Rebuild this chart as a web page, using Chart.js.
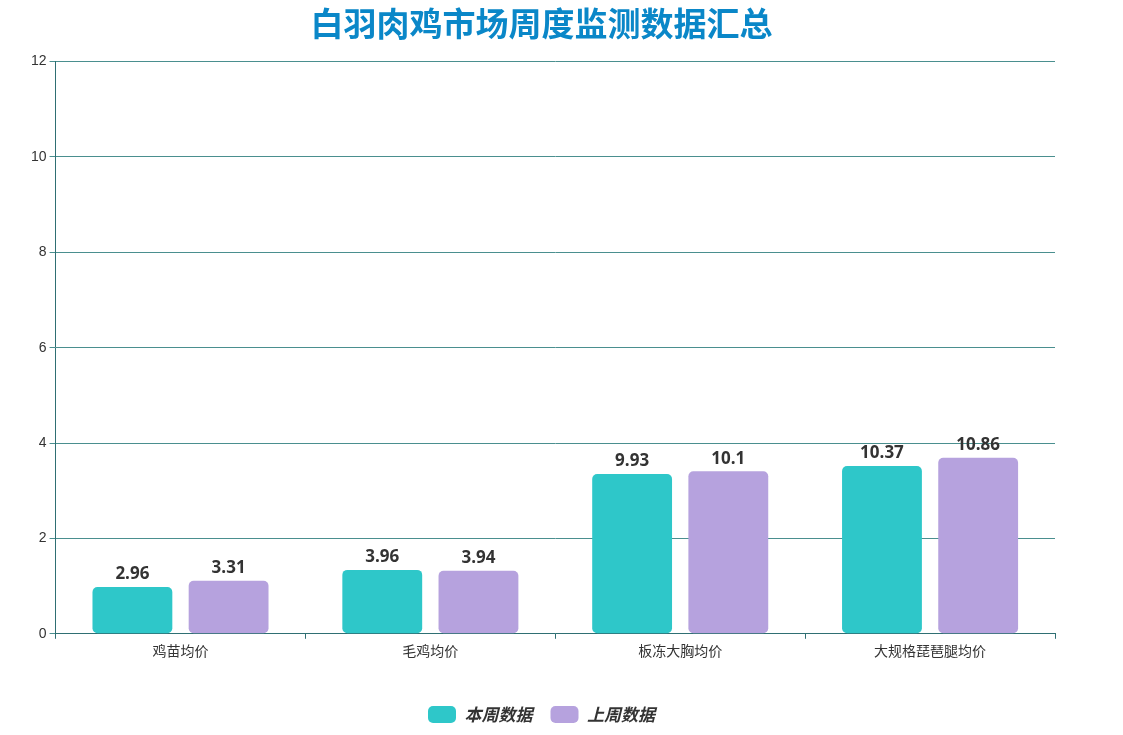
<!DOCTYPE html>
<html><head><meta charset="utf-8">
<script src="https://cdn.jsdelivr.net/npm/chart.js@4"></script>
<style>html,body{margin:0;background:#fff}#w{width:1123px;height:735px}</style>
</head><body><div id="w"><canvas id="c"></canvas></div>
<script>
const categories=['鸡苗均价','毛鸡均价','板冻大胸均价','大规格琵琶腿均价'];
const seriesNames=['本周数据','上周数据'];
const thisWeekLabels=[2.96,3.96,9.93,10.37];
const lastWeekLabels=[3.31,3.94,10.1,10.86];
// bar heights as drawn in the reference (axis units)
const thisWeekHeights=[0.98,1.34,3.35,3.52];
const lastWeekHeights=[1.11,1.32,3.41,3.69];
const yTicks=[0,2,4,6,8,10,12];
const labelsBy=[thisWeekLabels,lastWeekLabels];
const valPlugin={id:'vals',afterDatasetsDraw(ch){const x=ch.ctx;x.save();x.font='bold 17px "Open Sans","Noto Sans CJK SC"';x.fillStyle='#333';x.textAlign='center';x.textBaseline='bottom';
ch.data.datasets.forEach((d,i)=>{ch.getDatasetMeta(i).data.forEach((b,j)=>{x.fillText(String(labelsBy[i][j]),b.x,b.y-4);});});x.restore();}};
new Chart(document.getElementById('c'),{type:'bar',
data:{labels:categories,datasets:[
{label:seriesNames[0],data:thisWeekHeights,backgroundColor:'#2ec7c9',borderRadius:5,borderSkipped:false},
{label:seriesNames[1],data:lastWeekHeights,backgroundColor:'#b6a2de',borderRadius:5,borderSkipped:false}]},
plugins:[valPlugin],
options:{responsive:true,maintainAspectRatio:false,animation:false,
layout:{padding:{left:28,right:68,top:4,bottom:2}},
datasets:{bar:{categoryPercentage:0.77,barPercentage:0.83}},
plugins:{title:{display:true,text:'白羽肉鸡市场周度监测数据汇总',color:'#0a87c8',font:{size:33,weight:'bold',family:'"Noto Sans CJK SC"'},padding:{top:0,bottom:18}},
legend:{position:'bottom',labels:{color:'#333',font:{size:17,weight:'bold',style:'italic',family:'"Noto Sans CJK SC"'},boxWidth:28,boxHeight:17,useBorderRadius:true,borderRadius:5,padding:18},title:{display:true,text:' ',padding:{top:12,bottom:0}}},
tooltip:{enabled:false}},
scales:{x:{grid:{display:true,drawOnChartArea:false,drawTicks:true,tickLength:5,color:'#2f6f73',offset:true},border:{color:'#2f6f73'},ticks:{color:'#333',font:{size:14,family:'"Noto Sans CJK SC"'}}},
y:{min:0,max:12,afterBuildTicks:a=>{a.ticks=yTicks.map(v=>({value:v}));},grid:{color:'#4a8f8f',drawTicks:true,tickLength:6},border:{color:'#2f6f73'},ticks:{color:'#333',font:{size:14}}}}}});
</script></body></html>
